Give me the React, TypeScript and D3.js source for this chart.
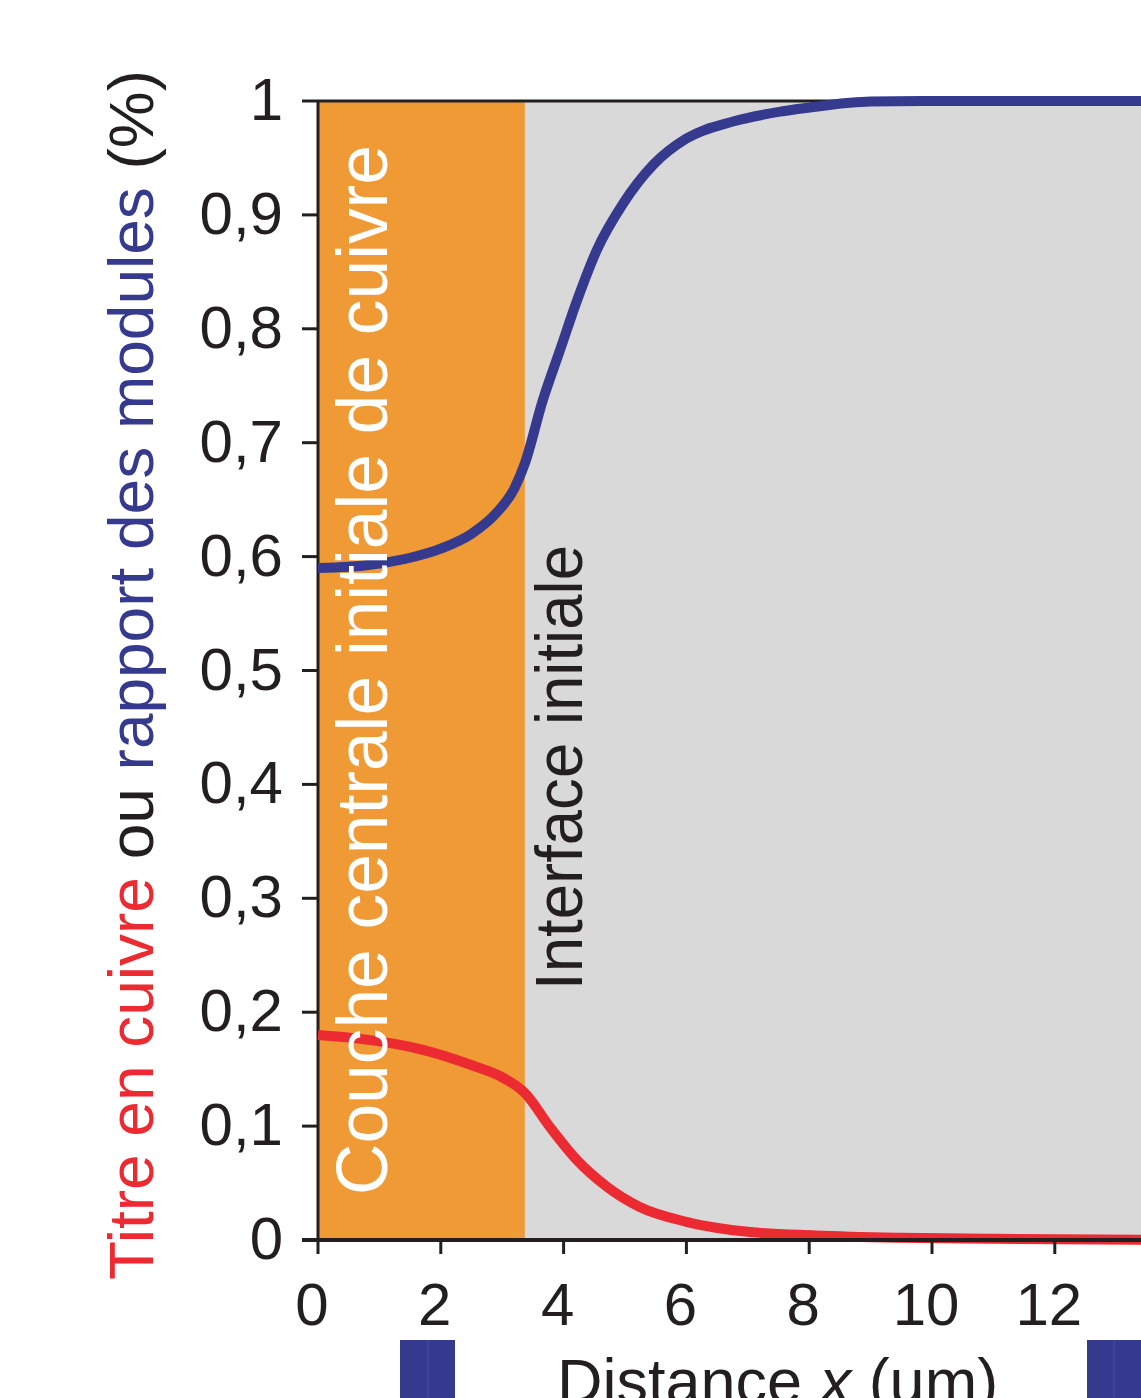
import React from "react";
import * as d3 from "d3";

const blueX = [0, 0.5, 1.0, 1.5, 2.0, 2.5, 2.9, 3.2, 3.37, 3.66, 3.94, 4.22, 4.54, 4.97, 5.46, 6.0, 6.76, 7.57, 8.1, 9.0, 10, 12, 14];
const blueY = [0.59, 0.591, 0.594, 0.599, 0.607, 0.62, 0.638, 0.66, 0.682, 0.737, 0.781, 0.825, 0.869, 0.91, 0.944, 0.967, 0.982, 0.991, 0.995, 0.9995, 1.0, 1.0, 1.0];

const redX = [0, 0.63, 1.71, 2.53, 2.96, 3.37, 3.78, 4.22, 4.7, 5.24, 6.0, 7.04, 8.1, 9.48, 11, 14];
const redY = [0.18, 0.177, 0.167, 0.153, 0.144, 0.129, 0.099, 0.07, 0.047, 0.029, 0.016, 0.007, 0.004, 0.002, 0.001, 0.0];

const yTicks = [0, 0.1, 0.2, 0.3, 0.4, 0.5, 0.6, 0.7, 0.8, 0.9, 1];
const yTickLabels = ["0", "0,1", "0,2", "0,3", "0,4", "0,5", "0,6", "0,7", "0,8", "0,9", "1"];
const xTicks = [0, 2, 4, 6, 8, 10, 12];
const xTickLabels = ["0", "2", "4", "6", "8", "10", "12"];

const interfaceX = 3.37;
const xMax = 14;

const W = 1141;
const H = 1398;
const FONT = "'Liberation Sans', Arial, Helvetica, sans-serif";
const ORANGE = "#f09a36";
const GRAY = "#d9d9d9";
const BLUE = "#363a8f";
const RED = "#ec2a31";
const DARK = "#231f20";

export default function App() {
  const left = 318;
  const top = 101;
  const bottom = 1240;
  const pxPerUnit = 61.4;
  const x = d3.scaleLinear().domain([0, xMax]).range([left, left + xMax * pxPerUnit]);
  const y = d3.scaleLinear().domain([0, 1]).range([bottom, top]);

  const line = d3
    .line<[number, number]>()
    .x((d) => x(d[0]))
    .y((d) => y(d[1]))
    .curve(d3.curveMonotoneX);

  const blueData: [number, number][] = blueX.map((v, i) => [v, blueY[i]]);
  const redData: [number, number][] = redX.map((v, i) => [v, redY[i]]);

  const right = x(xMax);

  return (
    <div style={{ position: "absolute", left: 0, top: 0 }}>
      <svg width={W} height={H} style={{ display: "block" }} fontFamily={FONT}>
        <rect x={0} y={0} width={W} height={H} fill="#ffffff" />
        {/* backgrounds */}
        <rect x={x(0)} y={y(1)} width={x(interfaceX) - x(0)} height={y(0) - y(1)} fill={ORANGE} />
        <rect x={x(interfaceX)} y={y(1)} width={right - x(interfaceX)} height={y(0) - y(1)} fill={GRAY} />

        {/* frame */}
        <line x1={x(0)} x2={right} y1={y(1)} y2={y(1)} stroke={DARK} strokeWidth={3} />
        <line x1={x(0)} x2={x(0)} y1={y(1)} y2={y(0)} stroke={DARK} strokeWidth={3} />

        {/* curves */}
        <path d={line(redData) || ""} fill="none" stroke={RED} strokeWidth={10} />
        <path d={line(blueData) || ""} fill="none" stroke={BLUE} strokeWidth={10} />

        {/* x axis */}
        <line x1={x(0) - 16} x2={right} y1={y(0)} y2={y(0)} stroke={DARK} strokeWidth={4} />
        {xTicks.map((t, i) => (
          <g key={"xt" + t}>
            <line x1={x(t)} x2={x(t)} y1={y(0)} y2={y(0) + 14} stroke={DARK} strokeWidth={3} />
            <text x={x(t) - 6} y={1325} textAnchor="middle" fontSize={60} fill={DARK}>
              {xTickLabels[i]}
            </text>
          </g>
        ))}

        {/* y axis ticks */}
        {yTicks.map((t, i) => (
          <g key={"yt" + t}>
            <line x1={x(0) - 16} x2={x(0)} y1={y(t)} y2={y(t)} stroke={DARK} strokeWidth={3} />
            <text x={283} y={y(t) + 19} textAnchor="end" fontSize={60} fill={DARK}>
              {yTickLabels[i]}
            </text>
          </g>
        ))}

        {/* region labels */}
        <text
          transform={`translate(387, 1195) rotate(-90)`}
          fontSize={72}
          fill="#ffffff"
          textLength={1050}
          lengthAdjust="spacingAndGlyphs"
        >
          Couche centrale initiale de cuivre
        </text>
        <text
          transform={`translate(582, 990) rotate(-90)`}
          fontSize={67}
          fill={DARK}
          textLength={445}
          lengthAdjust="spacingAndGlyphs"
        >
          Interface initiale
        </text>

        {/* y axis title */}
        <text transform={`translate(153, 1280) rotate(-90)`} fontSize={63} textLength={1210} lengthAdjust="spacingAndGlyphs">
          <tspan fill={RED}>Titre en cuivre</tspan>
          <tspan fill={DARK}> ou </tspan>
          <tspan fill={BLUE}>rapport des modules</tspan>
          <tspan fill={DARK}> (%)</tspan>
        </text>

        {/* x axis title (cropped at bottom edge as in reference) */}
        <text x={557} y={1403} fontSize={63} fill={DARK}>
          Distance <tspan fontStyle="italic">x</tspan> (um)
        </text>

        {/* legend swatches (cropped) */}
        <rect x={400} y={1340} width={55} height={70} fill={BLUE} />
        <line x1={428} x2={428} y1={1340} y2={1398} stroke="#4a4fa0" strokeWidth={1} />
        <rect x={1087} y={1340} width={60} height={70} fill={BLUE} />
        <line x1={1114} x2={1114} y1={1340} y2={1398} stroke="#4a4fa0" strokeWidth={1} />
      </svg>
    </div>
  );
}
